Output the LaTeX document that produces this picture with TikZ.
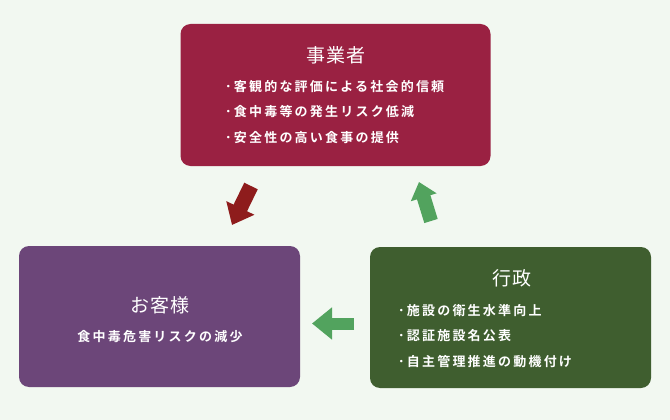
\documentclass[tikz,border=0pt]{standalone}
\usepackage{fontspec}
\newfontfamily\jptitle[LetterSpace=5]{Noto Sans CJK JP}
\newfontfamily\jpbody[LetterSpace=17]{Noto Sans CJK JP Bold}
\usetikzlibrary{arrows.meta}
\definecolor{bgc}{HTML}{F2F8F1}
\definecolor{bizc}{HTML}{9A2142}
\definecolor{custc}{HTML}{6C4679}
\definecolor{govc}{HTML}{3F5E2F}
\definecolor{redarr}{HTML}{8E1C1C}
\definecolor{greenarr}{HTML}{52A35E}
\tikzset{
  panel/.style={rounded corners=10pt, inner sep=0pt, draw=none},
  titletext/.style={text=white, font=\jptitle\fontsize{19}{22}\selectfont, inner sep=0pt},
  bodytext/.style={text=white, font=\jpbody\fontsize{13}{16}\selectfont, inner sep=0pt},
  bullettext/.style={bodytext, anchor=west},
  flowarrow/.style={line width=#1, line cap=butt},
}
\begin{document}
\begin{tikzpicture}[x=1pt,y=-1pt]
\fill[bgc] (0,0) rectangle (670,420);
\useasboundingbox (0,0) rectangle (670,420);

% panels
\node[panel, fill=bizc, minimum width=310pt, minimum height=142pt] (biz) at (335.5,95) {};
\node[panel, fill=custc, minimum width=281pt, minimum height=141pt] (cust) at (159.5,316.5) {};
\node[panel, fill=govc, minimum width=281pt, minimum height=141pt] (gov) at (510.5,317.5) {};

% business text
\node[titletext] (bizt) at (336,55) {事業者};
\node[bullettext] (biz1) at (225,87) {･客観的な評価による社会的信頼};
\node[bullettext] (biz2) at (225,112) {･食中毒等の発生リスク低減};
\node[bullettext] (biz3) at (225,138) {･安全性の高い食事の提供};

% customer text
\node[titletext] (custt) at (160,305) {お客様};
\node[bodytext] (cust1) at (160,337) {食中毒危害リスクの減少};

% government text
\node[titletext] (govt) at (512,278) {行政};
\node[bullettext] (gov1) at (398,311) {･施設の衛生水準向上};
\node[bullettext] (gov2) at (398,336) {･認証施設名公表};
\node[bullettext] (gov3) at (398,362) {･自主管理推進の動機付け};

% arrows
\coordinate (ra) at (251,186);
\coordinate (rb) at (232,225);
\coordinate (ga) at (431,221);
\coordinate (gb) at (419,182);
\coordinate (la) at (354,323.5);
\coordinate (lb) at (312,323.5);
\draw[flowarrow=15pt, draw=redarr, -{Triangle[length=19pt,width=30pt]}] (ra) -- (rb);
\draw[flowarrow=14pt, draw=greenarr, -{Triangle[length=16pt,width=26pt]}] (ga) -- (gb);
\draw[flowarrow=12pt, draw=greenarr, -{Triangle[length=20pt,width=31pt]}] (la) -- (lb);
\end{tikzpicture}
\end{document}
